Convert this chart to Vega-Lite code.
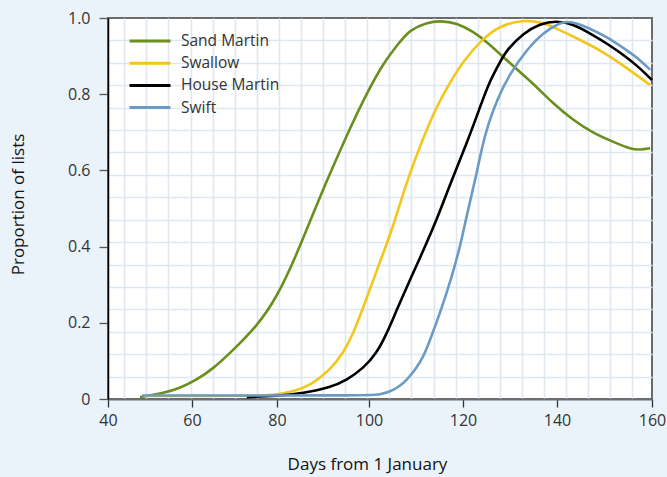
{
  "$schema": "https://vega.github.io/schema/vega-lite/v6.json",
  "width": 544,
  "height": 381,
  "autosize": "none",
  "padding": {"left": 108, "top": 18, "right": 15, "bottom": 78},
  "background": "#ebf3fa",
  "config": {
    "view": {"fill": "white", "stroke": "#6b6b6b", "strokeWidth": 2},
    "font": "Open Sans",
    "axis": {"labelColor": "#333333", "titleColor": "#111111", "labelFont": "Open Sans", "titleFont": "Open Sans"}
  },
  "data": {
    "values": [
      {"species": "Sand Martin", "day": 47.6, "p": 0.005},
      {"species": "Sand Martin", "day": 53.2, "p": 0.015},
      {"species": "Sand Martin", "day": 57, "p": 0.028},
      {"species": "Sand Martin", "day": 61.1, "p": 0.05},
      {"species": "Sand Martin", "day": 65, "p": 0.08},
      {"species": "Sand Martin", "day": 68.9, "p": 0.12},
      {"species": "Sand Martin", "day": 75.2, "p": 0.19},
      {"species": "Sand Martin", "day": 79.9, "p": 0.265},
      {"species": "Sand Martin", "day": 84.3, "p": 0.38},
      {"species": "Sand Martin", "day": 87.2, "p": 0.468},
      {"species": "Sand Martin", "day": 90.8, "p": 0.572},
      {"species": "Sand Martin", "day": 92.2, "p": 0.61},
      {"species": "Sand Martin", "day": 95.9, "p": 0.712},
      {"species": "Sand Martin", "day": 99.5, "p": 0.802},
      {"species": "Sand Martin", "day": 103.0, "p": 0.881},
      {"species": "Sand Martin", "day": 106.6, "p": 0.938},
      {"species": "Sand Martin", "day": 108.7, "p": 0.969},
      {"species": "Sand Martin", "day": 112.3, "p": 0.988},
      {"species": "Sand Martin", "day": 115.1, "p": 0.993},
      {"species": "Sand Martin", "day": 118.7, "p": 0.987},
      {"species": "Sand Martin", "day": 122.2, "p": 0.964},
      {"species": "Sand Martin", "day": 125.0, "p": 0.938},
      {"species": "Sand Martin", "day": 130.0, "p": 0.881},
      {"species": "Sand Martin", "day": 134.9, "p": 0.829},
      {"species": "Sand Martin", "day": 139.1, "p": 0.776},
      {"species": "Sand Martin", "day": 143.4, "p": 0.732},
      {"species": "Sand Martin", "day": 147.6, "p": 0.698},
      {"species": "Sand Martin", "day": 151.8, "p": 0.675},
      {"species": "Sand Martin", "day": 155.7, "p": 0.655},
      {"species": "Sand Martin", "day": 157.5, "p": 0.654},
      {"species": "Sand Martin", "day": 159.6, "p": 0.658},
      {"species": "Swallow", "day": 48.5, "p": 0.008},
      {"species": "Swallow", "day": 76.5, "p": 0.008},
      {"species": "Swallow", "day": 79.9, "p": 0.012},
      {"species": "Swallow", "day": 83.5, "p": 0.02},
      {"species": "Swallow", "day": 87.2, "p": 0.035},
      {"species": "Swallow", "day": 91.5, "p": 0.076},
      {"species": "Swallow", "day": 94.4, "p": 0.12},
      {"species": "Swallow", "day": 96.6, "p": 0.172},
      {"species": "Swallow", "day": 98.8, "p": 0.242},
      {"species": "Swallow", "day": 100.9, "p": 0.312},
      {"species": "Swallow", "day": 103.0, "p": 0.382},
      {"species": "Swallow", "day": 105.2, "p": 0.455},
      {"species": "Swallow", "day": 108.0, "p": 0.57},
      {"species": "Swallow", "day": 111.6, "p": 0.688},
      {"species": "Swallow", "day": 114.4, "p": 0.767},
      {"species": "Swallow", "day": 116.5, "p": 0.815},
      {"species": "Swallow", "day": 120.0, "p": 0.887},
      {"species": "Swallow", "day": 124.3, "p": 0.947},
      {"species": "Swallow", "day": 127.9, "p": 0.98},
      {"species": "Swallow", "day": 132.8, "p": 0.995},
      {"species": "Swallow", "day": 136.4, "p": 0.99},
      {"species": "Swallow", "day": 139.9, "p": 0.973},
      {"species": "Swallow", "day": 144.1, "p": 0.947},
      {"species": "Swallow", "day": 149.1, "p": 0.916},
      {"species": "Swallow", "day": 153.3, "p": 0.881},
      {"species": "Swallow", "day": 156.8, "p": 0.85},
      {"species": "Swallow", "day": 159.6, "p": 0.824},
      {"species": "House Martin", "day": 72.9, "p": 0.005},
      {"species": "House Martin", "day": 80.0, "p": 0.008},
      {"species": "House Martin", "day": 85.7, "p": 0.015},
      {"species": "House Martin", "day": 91.5, "p": 0.03},
      {"species": "House Martin", "day": 95.2, "p": 0.05},
      {"species": "House Martin", "day": 98.8, "p": 0.081},
      {"species": "House Martin", "day": 101.6, "p": 0.12},
      {"species": "House Martin", "day": 103.8, "p": 0.172},
      {"species": "House Martin", "day": 105.9, "p": 0.234},
      {"species": "House Martin", "day": 108.7, "p": 0.312},
      {"species": "House Martin", "day": 111.6, "p": 0.391},
      {"species": "House Martin", "day": 114.4, "p": 0.47},
      {"species": "House Martin", "day": 117.2, "p": 0.562},
      {"species": "House Martin", "day": 120.8, "p": 0.671},
      {"species": "House Martin", "day": 123.6, "p": 0.765},
      {"species": "House Martin", "day": 125.5, "p": 0.83},
      {"species": "House Martin", "day": 127.9, "p": 0.885},
      {"species": "House Martin", "day": 129.3, "p": 0.916},
      {"species": "House Martin", "day": 132.8, "p": 0.96},
      {"species": "House Martin", "day": 136.4, "p": 0.985},
      {"species": "House Martin", "day": 139.9, "p": 0.993},
      {"species": "House Martin", "day": 143.4, "p": 0.984},
      {"species": "House Martin", "day": 146.9, "p": 0.96},
      {"species": "House Martin", "day": 150.4, "p": 0.934},
      {"species": "House Martin", "day": 154.6, "p": 0.898},
      {"species": "House Martin", "day": 157.5, "p": 0.868},
      {"species": "House Martin", "day": 160.0, "p": 0.837},
      {"species": "Swift", "day": 48.1, "p": 0.009},
      {"species": "Swift", "day": 100.2, "p": 0.009},
      {"species": "Swift", "day": 102.3, "p": 0.012},
      {"species": "Swift", "day": 104.5, "p": 0.019},
      {"species": "Swift", "day": 106.6, "p": 0.034},
      {"species": "Swift", "day": 108.0, "p": 0.05},
      {"species": "Swift", "day": 109.8, "p": 0.076},
      {"species": "Swift", "day": 111.6, "p": 0.111},
      {"species": "Swift", "day": 113.0, "p": 0.155},
      {"species": "Swift", "day": 115.1, "p": 0.225},
      {"species": "Swift", "day": 117.4, "p": 0.312},
      {"species": "Swift", "day": 119.4, "p": 0.4},
      {"species": "Swift", "day": 120.9, "p": 0.488},
      {"species": "Swift", "day": 122.6, "p": 0.575},
      {"species": "Swift", "day": 124.0, "p": 0.659},
      {"species": "Swift", "day": 125.3, "p": 0.719},
      {"species": "Swift", "day": 127.2, "p": 0.785},
      {"species": "Swift", "day": 130.0, "p": 0.855},
      {"species": "Swift", "day": 133.5, "p": 0.916},
      {"species": "Swift", "day": 137.1, "p": 0.962},
      {"species": "Swift", "day": 140.6, "p": 0.988},
      {"species": "Swift", "day": 142.7, "p": 0.992},
      {"species": "Swift", "day": 146.2, "p": 0.977},
      {"species": "Swift", "day": 150.4, "p": 0.951},
      {"species": "Swift", "day": 154.6, "p": 0.916},
      {"species": "Swift", "day": 157.5, "p": 0.89},
      {"species": "Swift", "day": 159.6, "p": 0.864}
    ]
  },
  "mark": {"type": "line", "interpolate": "basis", "strokeWidth": 2.6},
  "encoding": {
    "x": {
      "field": "day",
      "type": "quantitative",
      "scale": {"domain": [40, 60, 80, 100, 120, 140, 160], "range": [0, 84, 169, 261, 355, 449, 544], "nice": false, "zero": false},
      "axis": {
        "title": "Days from 1 January",
        "values": [40, 43.88, 49.14, 54.4, 59.67, 60, 64.87, 70.07, 75.25, 80, 80.41, 85.22, 90.02, 94.83, 99.63, 100, 104.34, 109.04, 113.74, 118.45, 120, 123.13, 127.83, 132.53, 137.23, 140, 141.92, 146.57, 151.22, 155.87, 160],
        "grid": true,
        "gridColor": "#dfe7f1",
        "gridWidth": 1.6,
        "gridOpacity": {"condition": {"test": "datum.value % 20 === 0", "value": 0}, "value": 1},
        "tickOpacity": {"condition": {"test": "datum.value % 20 === 0", "value": 1}, "value": 0},
        "labelExpr": "datum.value % 20 === 0 ? format(datum.value, '.0f') : ''",
        "labelOverlap": false,
        "labelFlush": false,
        "labelBound": false,
        "labelFontSize": 16,
        "labelPadding": 5,
        "tickSize": 8,
        "tickColor": "#333333",
        "tickWidth": 1.3,
        "domainColor": "#6d6e71",
        "domainWidth": 2,
        "titleFontSize": 17,
        "titleFontWeight": 500,
        "titleX": 259,
        "titleY": 57,
        "titleBaseline": "top",
        "titleAnchor": null
      }
    },
    "y": {
      "field": "p",
      "type": "quantitative",
      "scale": {"domain": [0, 1], "nice": false, "zero": true},
      "axis": {
        "title": "Proportion of lists",
        "values": [0, 0.05882, 0.11765, 0.17647, 0.2, 0.23529, 0.29412, 0.35294, 0.4, 0.41176, 0.47059, 0.52941, 0.58824, 0.6, 0.64706, 0.70588, 0.76471, 0.8, 0.82353, 0.88235, 0.94118, 1],
        "grid": true,
        "gridColor": "#dfe7f1",
        "gridWidth": 1.6,
        "gridOpacity": {"condition": {"test": "abs(datum.value * 5 - round(datum.value * 5)) < 0.001", "value": 0}, "value": 1},
        "tickOpacity": {"condition": {"test": "abs(datum.value * 5 - round(datum.value * 5)) < 0.001", "value": 1}, "value": 0},
        "labelExpr": "abs(datum.value * 5 - round(datum.value * 5)) < 0.001 ? (datum.value === 0 ? '0' : format(datum.value, '.1f')) : ''",
        "labelOverlap": false,
        "labelFlush": false,
        "labelBound": false,
        "labelFontSize": 16,
        "labelPadding": 9,
        "tickSize": 9,
        "tickColor": "#555555",
        "tickWidth": 1.3,
        "domainColor": "#000000",
        "domainWidth": 1.5,
        "titleFontSize": 17,
        "titleFontWeight": 500,
        "titleAngle": -90,
        "titleX": -90,
        "titleY": 186,
        "titleAlign": "center",
        "titleBaseline": "middle",
        "titleAnchor": null
      }
    },
    "color": {
      "field": "species",
      "type": "nominal",
      "scale": {"domain": ["Sand Martin", "Swallow", "House Martin", "Swift"], "range": ["#6b8e1f", "#f5c61a", "#000000", "#6a9bc6"]},
      "legend": {
        "title": null,
        "orient": "none",
        "legendX": 30,
        "legendY": 11,
        "symbolType": "M-2,0H2",
        "symbolSize": 420,
        "symbolStrokeWidth": 3,
        "labelFontSize": 15.5,
        "labelColor": "#333333",
        "labelFont": "Open Sans",
        "labelOffset": 19,
        "rowPadding": 1.2,
        "padding": 0
      }
    }
  }
}
